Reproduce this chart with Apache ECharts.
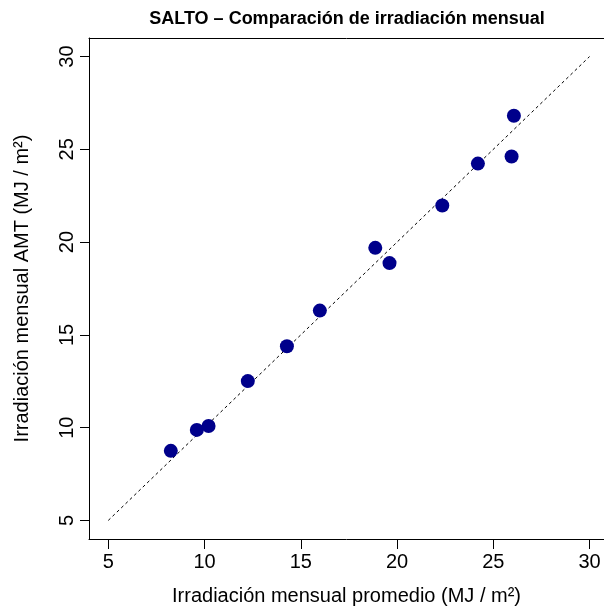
<!DOCTYPE html>
<html>
<head>
<meta charset="utf-8">
<script src="https://cdn.jsdelivr.net/npm/echarts@6/dist/echarts.min.js"></script>
<style>
  html, body { margin: 0; padding: 0; background: #fff; }
  #chart { width: 604px; height: 611px; }
</style>
</head>
<body>
<div id="chart"></div>
<script>
// irradiación mensual promedio (x) vs AMT (y), MJ/m2
var promedio = [8.25, 9.60, 10.21, 12.25, 14.28, 15.99, 18.87, 19.61, 22.35, 24.20, 25.95, 26.07]
var amt = [8.75, 9.88, 10.09, 12.51, 14.39, 16.31, 19.69, 18.87, 21.97, 24.23, 24.61, 26.81]
var tickValues = [5, 10, 15, 20, 25, 30]
var identidad = [[5, 5], [30, 30]]

var puntos = []
for (var i = 0; i < promedio.length; i++) {
  puntos.push([promedio[i], amt[i]])
}

var fuente = 'Liberation Sans, Arial, Helvetica, sans-serif'

var option = {
  animation: false,
  backgroundColor: '#fff',
  title: {
    text: 'SALTO – Comparación de irradiación mensual',
    left: 342,
    top: 5,
    textAlign: 'center',
    textStyle: { fontFamily: fuente, fontSize: 18, fontWeight: 'bold', color: '#000' }
  },
  // the R box runs past the right edge of the picture, so no right border
  grid: {
    left: 89,
    top: 38,
    right: 0,
    height: 502
  },
  xAxis: [
    {
      type: 'value',
      min: 4,
      max: 30.75,
      name: 'Irradiación mensual promedio (MJ / m²)',
      nameLocation: 'middle',
      nameGap: 47,
      nameTextStyle: { fontFamily: fuente, fontSize: 20, color: '#000' },
      axisLine: { show: true, onZero: false, lineStyle: { color: '#000', width: 1 } },
      axisTick: { show: true, length: 10, customValues: tickValues, lineStyle: { color: '#000' } },
      axisLabel: { customValues: tickValues, margin: 13, fontFamily: fuente, fontSize: 20, color: '#000' },
      splitLine: { show: false }
    },
    {
      type: 'value',
      position: 'top',
      min: 4,
      max: 30.75,
      axisLine: { show: true, onZero: false, lineStyle: { color: '#000', width: 1 } },
      axisTick: { show: false },
      axisLabel: { show: false },
      splitLine: { show: false }
    }
  ],
  yAxis: {
    type: 'value',
    min: 4,
    max: 31,
    name: 'Irradiación mensual AMT (MJ / m²)',
    nameLocation: 'middle',
    nameGap: 57,
    nameTextStyle: { fontFamily: fuente, fontSize: 20, color: '#000' },
    axisLine: { show: true, onZero: false, lineStyle: { color: '#000', width: 1 } },
    axisTick: { show: true, length: 9, customValues: tickValues, lineStyle: { color: '#000' } },
    axisLabel: { customValues: tickValues, rotate: 90, margin: 12, fontFamily: fuente, fontSize: 20, color: '#000' },
    splitLine: { show: false }
  },
  series: [
    {
      type: 'line',
      data: identidad,
      symbol: 'none',
      lineStyle: { color: '#000', width: 1, type: [3, 3] },
      z: 1
    },
    {
      type: 'scatter',
      data: puntos,
      symbol: 'circle',
      symbolSize: 14,
      itemStyle: { color: '#00008B', opacity: 1 },
      z: 2
    }
  ]
}

var myChart = echarts.init(document.getElementById('chart'))
myChart.setOption(option)
</script>
</body>
</html>
